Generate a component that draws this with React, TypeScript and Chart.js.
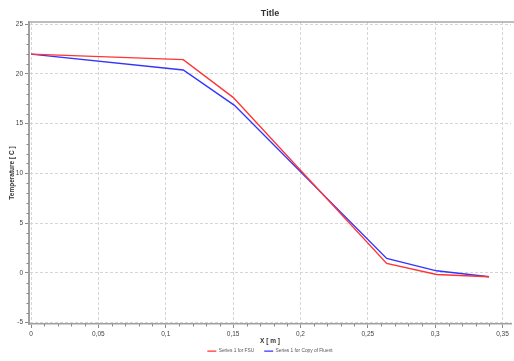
import React, { useEffect, useRef } from "react";
import { Chart, registerables } from "chart.js";

Chart.register(...registerables);

const seriesNames = ["Series 1 for FSU", "Series 1 for Copy of Fluent"];
const xFSU = [0, 0.113, 0.15, 0.264, 0.301, 0.34];
const tFSU = [22.0, 21.45, 17.65, 0.95, -0.17, -0.4];
const xFluent = [0, 0.113, 0.151, 0.264, 0.301, 0.34];
const tFluent = [22.0, 20.4, 16.85, 1.45, 0.2, -0.4];
const xMinorTicks = Array.from({ length: 36 }, (_, i) => i / 100).filter((_, i) => i % 5 !== 0);
const yMinorTicks = Array.from({ length: 31 }, (_, i) => i - 5).filter((v) => v % 5 !== 0);

const FONT = "'Liberation Sans', Arial, sans-serif";

const minorTicksPlugin = {
  id: "minorTicks",
  afterDraw(chart: any) {
    const { ctx, chartArea, scales } = chart;
    const x = scales.x;
    const y = scales.y;
    ctx.save();
    ctx.strokeStyle = "#8a8a8a";
    ctx.lineWidth = 1;
    ctx.beginPath();
    for (const v of xMinorTicks) {
      const px = Math.round(x.getPixelForValue(v)) + 0.5;
      ctx.moveTo(px, chartArea.bottom);
      ctx.lineTo(px, chartArea.bottom + 2.5);
    }
    for (const v of yMinorTicks) {
      const py = Math.round(y.getPixelForValue(v)) + 0.5;
      ctx.moveTo(chartArea.left - 2.5, py);
      ctx.lineTo(chartArea.left, py);
    }
    ctx.stroke();
    ctx.strokeStyle = "#a8a8a8";
    ctx.lineWidth = 1.5;
    ctx.beginPath();
    ctx.moveTo(chartArea.left, chartArea.top);
    ctx.lineTo(chart.width, chartArea.top);
    ctx.stroke();
    ctx.restore();
  },
};

export default function App() {
  const ref = useRef<HTMLCanvasElement | null>(null);
  useEffect(() => {
    if (!ref.current) return;
    const chart = new Chart(ref.current, {
      type: "line",
      data: {
        datasets: [
          {
            label: seriesNames[0],
            data: xFSU.map((x, i) => ({ x, y: tFSU[i] })),
            borderColor: "#ff3434",
            backgroundColor: "#ff3434",
            borderWidth: 1.4,
            pointRadius: 0,
            tension: 0,
          },
          {
            label: seriesNames[1],
            data: xFluent.map((x, i) => ({ x, y: tFluent[i] })),
            borderColor: "#3434ff",
            backgroundColor: "#3434ff",
            borderWidth: 1.4,
            pointRadius: 0,
            tension: 0,
          },
        ],
      },
      options: {
        animation: false,
        responsive: false,
        layout: { padding: { left: 0, right: 3, top: 0, bottom: 0 } },
        plugins: {
          title: {
            display: true,
            text: "Title",
            fullSize: false,
            color: "#333",
            font: { family: FONT, size: 9, weight: "bold", lineHeight: 1.2 },
            padding: { top: 8.5, bottom: 2.7 },
          },
          legend: {
            position: "bottom",
            fullSize: false,
            maxHeight: 22.25,
            labels: {
              usePointStyle: true,
              pointStyle: "line",
              pointStyleWidth: 9,
              padding: 10,
              color: "#555",
              font: { family: FONT, size: 4.8 },
            },
          },
          tooltip: { enabled: false },
        },
        scales: {
          x: {
            type: "linear",
            min: -0.0015,
            max: 0.3563,
            afterFit: (s: any) => {
              s.height = 14.75;
            },
            ticks: {
              stepSize: 0.05,
              includeBounds: false,
              padding: 2,
              color: "#444",
              font: { family: FONT, size: 6.5 },
              maxRotation: 0,
              callback: (v: any) => String(Math.round(Number(v) * 100) / 100).replace(".", ","),
            },
            grid: {
              color: "#d6d6d6",
              lineWidth: 1,
              drawTicks: true,
              tickLength: 4,
              tickColor: "#8a8a8a",
            },
            border: { display: true, color: "#a0a0a0", width: 1.5, dash: [3, 2] },
            title: {
              display: true,
              text: "X [ m ]",
              color: "#333",
              font: { family: FONT, size: 6.5, weight: "bold", lineHeight: 1.2 },
              padding: { top: 0, bottom: -5.9 },
            },
          },
          y: {
            type: "linear",
            min: -5.15,
            max: 25.23,
            afterFit: (s: any) => {
              s.width = 29;
            },
            ticks: {
              stepSize: 5,
              includeBounds: false,
              padding: 2,
              color: "#444",
              font: { family: FONT, size: 6.5 },
              callback: (v: any) => String(v),
            },
            grid: {
              color: "#d6d6d6",
              lineWidth: 1,
              drawTicks: true,
              tickLength: 4,
              tickColor: "#8a8a8a",
            },
            border: { display: true, color: "#a0a0a0", width: 2, dash: [3, 2] },
            title: {
              display: true,
              text: "Temperature [ C ]",
              color: "#333",
              font: { family: FONT, size: 6.5, weight: "bold", lineHeight: 1.2 },
              padding: { top: 8.1, bottom: 0 },
            },
          },
        },
      },
      plugins: [minorTicksPlugin],
    } as any);
    return () => chart.destroy();
  }, []);
  return (
    <div style={{ position: "absolute", left: 0, top: 0, width: 514, height: 361, background: "#fff" }}>
      <canvas ref={ref} width={514} height={361} style={{ display: "block" }} />
    </div>
  );
}
